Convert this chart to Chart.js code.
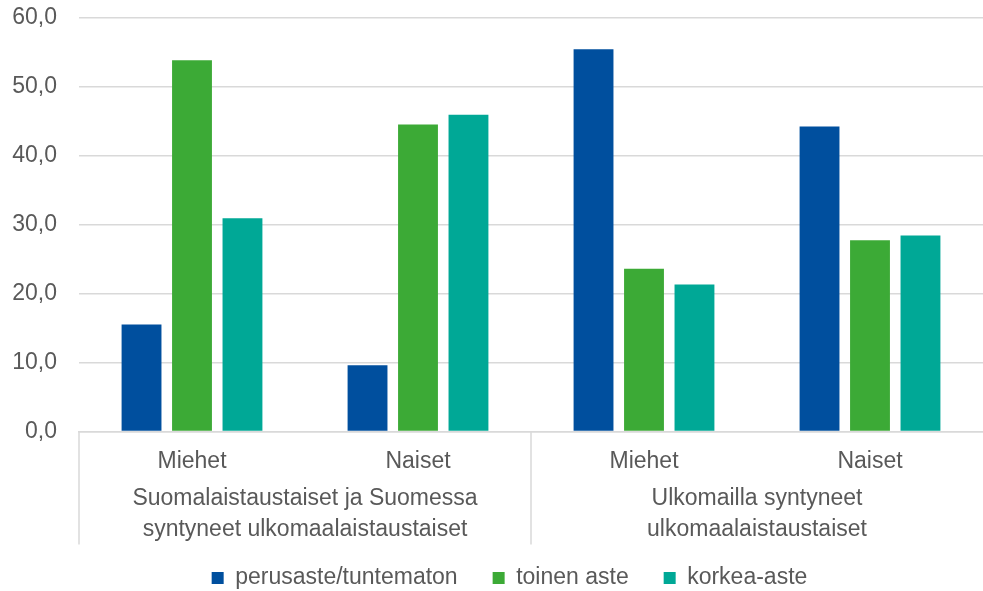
<!DOCTYPE html>
<html>
<head>
<meta charset="utf-8">
<script src="https://cdn.jsdelivr.net/npm/chart.js@4.4.1/dist/chart.umd.min.js"></script>
<style>
  html, body { margin: 0; padding: 0; background: #fff; }
  #wrap { width: 983px; height: 591px; position: relative; }
</style>
</head>
<body>
<div id="wrap"><canvas id="chart"></canvas></div>
<script>
  const CATEGORIES = ["Miehet", "Naiset", "Miehet", "Naiset"];
  const GROUPS = [
    ["Suomalaistaustaiset ja Suomessa", "syntyneet ulkomaalaistaustaiset"],
    ["Ulkomailla syntyneet", "ulkomaalaistaustaiset"],
  ];
  const GROUP_SIZE = 2;
  const PERUSASTE = [15.5, 9.6, 55.4, 44.2];
  const TOINEN = [53.8, 44.5, 23.6, 27.7];
  const KORKEA = [30.9, 45.9, 21.3, 28.4];
  const Y_TICKS = [0, 10, 20, 30, 40, 50, 60];

  const TEXT = "#595959";
  const LINE = "#d9d9d9";
  const FONT = "'Liberation Sans', Arial, sans-serif";
  const SIZE = 23;

  // group labels under the category ticks, plus the vertical separators
  const groupAxis = {
    id: "groupAxis",
    afterLayout(chart) {
      // legend sits a little right of centre in the original
      chart.legend.left += 18;
      chart.legend.right += 18;
    },
    afterDraw(chart) {
      const x = chart.scales.x;
      const area = chart.chartArea;
      const ctx = chart.ctx;
      const step = x.getPixelForValue(1) - x.getPixelForValue(0);
      const bottom = area.bottom + 113;
      ctx.save();
      ctx.strokeStyle = LINE;
      ctx.lineWidth = 1.5;
      ctx.fillStyle = TEXT;
      ctx.font = SIZE + "px " + FONT;
      ctx.textAlign = "center";
      ctx.textBaseline = "middle";
      GROUPS.forEach((lines, g) => {
        const left = x.getPixelForValue(g * GROUP_SIZE) - step / 2;
        const right = x.getPixelForValue(g * GROUP_SIZE + GROUP_SIZE - 1) + step / 2;
        ctx.beginPath();
        ctx.moveTo(left, area.bottom);
        ctx.lineTo(left, bottom);
        ctx.stroke();
        const cx = (left + right) / 2;
        lines.forEach((t, i) => ctx.fillText(t, cx, area.bottom + 67 + i * 31));
      });
      ctx.restore();
    },
  };

  new Chart(document.getElementById("chart"), {
    type: "bar",
    data: {
      labels: CATEGORIES,
      datasets: [
        { label: "perusaste/tuntematon", data: PERUSASTE, backgroundColor: "#004f9e" },
        { label: "toinen aste", data: TOINEN, backgroundColor: "#3caa36" },
        { label: "korkea-aste", data: KORKEA, backgroundColor: "#00a896" },
      ],
    },
    options: {
      responsive: true,
      maintainAspectRatio: false,
      animation: false,
      categoryPercentage: 0.67,
      barPercentage: 0.79,
      layout: { padding: { top: 17.5, right: 0, left: 0, bottom: -8.5 } },
      plugins: {
        tooltip: { enabled: false },
        legend: {
          position: "bottom",
          labels: {
            color: TEXT,
            font: { size: SIZE, family: FONT },
            boxWidth: 12,
            boxHeight: 12,
            padding: 35,
          },
        },
      },
      scales: {
        x: {
          grid: { display: false, drawTicks: false },
          border: { display: true, color: LINE, width: 1.5 },
          ticks: { color: TEXT, font: { size: SIZE, family: FONT }, padding: 16 },
          afterFit(scale) { scale.height = 100; },
        },
        y: {
          min: 0,
          max: 60,
          afterBuildTicks(scale) { scale.ticks = Y_TICKS.map((v) => ({ value: v })); },
          grid: { color: LINE, lineWidth: 1.5, drawTicks: false },
          border: { display: false },
          ticks: {
            color: TEXT,
            font: { size: SIZE, family: FONT },
            padding: 22,
            callback(value) { return value.toFixed(1).replace(".", ","); },
          },
          afterFit(scale) {
            scale.width = 79;
            scale.paddingTop = 0;
          },
        },
      },
    },
    plugins: [groupAxis],
  });
</script>
</body>
</html>
